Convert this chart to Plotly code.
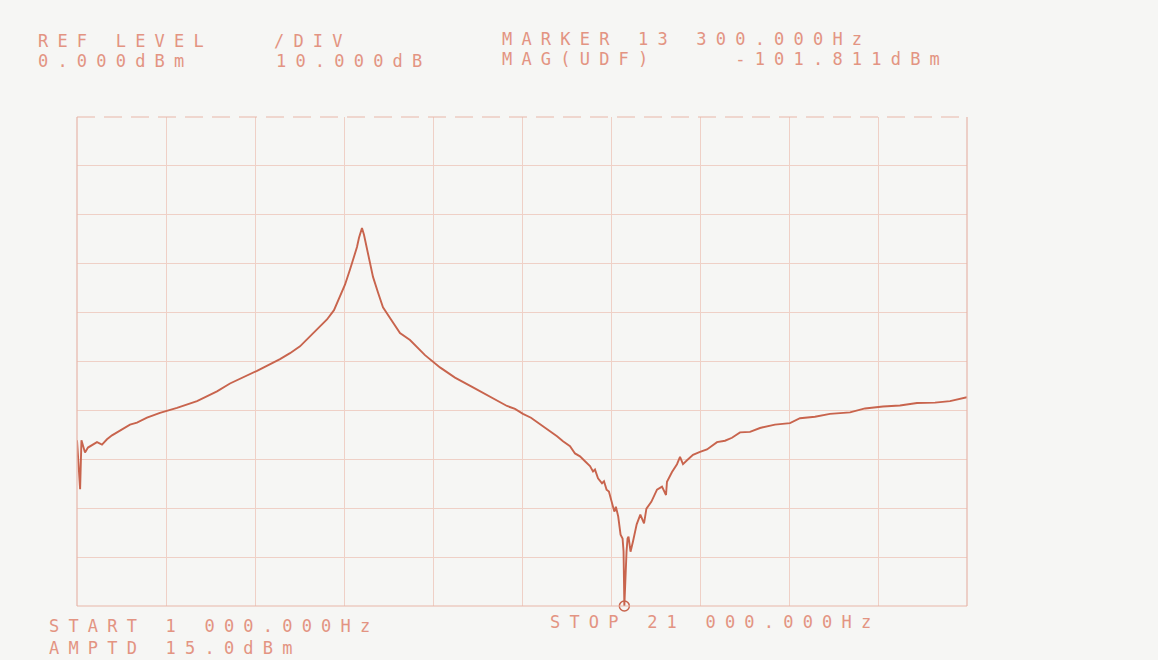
import plotly.graph_objects as go

# Swept response, 1 kHz .. 21 kHz, REF LEVEL 0 dBm, 10 dB/div
freq_hz = [
    1000, 1070, 1100, 1180, 1247, 1360, 1449, 1562, 1674, 1787, 1899, 2034,
    2191, 2348, 2573, 2865, 3247, 3697, 4146, 4438, 5045, 5562, 5787, 6011,
    6169, 6348, 6461, 6618, 6775, 6910, 7022, 7135, 7225, 7292, 7337, 7382,
    7404, 7449, 7494, 7539, 7584, 7652, 7764, 7876, 8034, 8258, 8483, 8820,
    9157, 9494, 9899, 10281, 10663, 10843, 11022, 11202, 11404, 11584, 11787,
    11921, 12079, 12191, 12303, 12416, 12528, 12596, 12640, 12708, 12798,
    12843, 12900, 12953, 13005, 13075, 13110, 13162, 13215, 13260, 13282,
    13300, 13349, 13372, 13394, 13439, 13494, 13577, 13659, 13742, 13796,
    13906, 14034, 14146, 14236, 14258, 14371, 14483, 14551, 14618, 14708,
    14843, 15000, 15157, 15382, 15562, 15719, 15899, 16124, 16348, 16685,
    17022, 17247, 17584, 17921, 18371, 18708, 19112, 19494, 19876, 20281,
    20618, 21000,
]
mag_dbm = [
    -66.1, -76.1, -66.1, -68.6, -67.6, -66.9, -66.5, -67.0, -65.9, -65.1, -64.5, -63.9,
    -62.9, -62.5, -61.5, -60.5, -59.5, -58.1, -56.1, -54.5, -51.9, -49.5, -48.3, -46.9,
    -45.5, -44.0, -43.0, -41.4, -39.5, -36.8, -34.3, -31.2, -28.8, -26.6, -24.7, -23.3,
    -22.7, -24.1, -26.1, -27.8, -30.2, -32.7, -35.9, -38.9, -41.1, -44.2, -45.6, -48.7,
    -51.2, -53.3, -55.3, -57.2, -59.1, -59.7, -60.7, -61.5, -62.8, -63.9, -65.3,
    -66.3, -67.3, -68.8, -69.4, -70.4, -71.4, -72.5, -72.1, -73.9, -74.9,
    -74.5, -76.2, -76.6, -78.6, -80.7, -79.7, -81.7, -85.4, -86.2, -88.8,
    -101.811, -88.9, -86.2, -85.8, -88.9, -86.8, -83.3, -81.3, -83.1, -80.1,
    -78.7, -76.2, -75.6, -77.3, -74.6, -72.6, -71.0, -69.5, -71.0, -70.2,
    -69.1, -68.5, -68.0, -66.5, -66.2, -65.6, -64.5, -64.4, -63.6, -62.9,
    -62.6, -61.6, -61.3, -60.7, -60.4, -59.6, -59.2, -59.0, -58.5, -58.4,
    -58.1, -57.3,
]

marker_hz = 13300.0
marker_dbm = -101.811

x_range = [1000, 21000]
y_range = [-100, 0]
x_grid = [3000, 5000, 7000, 9000, 11000, 13000, 15000, 17000, 19000]
y_grid = [-90, -80, -70, -60, -50, -40, -30, -20, -10]

header_lines = [
    ("REF LEVEL", 36, 41), ("0.000dBm", 36, 61),
    ("/DIV", 272, 41), ("10.000dB", 274, 61),
    ("MARKER 13 300.000Hz", 500, 39), ("MAG(UDF)    -101.811dBm", 500, 59),
]
footer_lines = [
    ("START 1 000.000Hz", 47, 626), ("AMPTD 15.0dBm", 47, 648),
    ("STOP 21 000.000Hz", 548, 622),
]

W, H = 1158, 660
L, R, T, B = 77, 191, 117, 54
PW, PH = W - L - R, H - T - B

ink = "#c8644d"
grid_ink = "#efd0c6"
frame_ink = "#e7b6a8"
text_ink = "#e39482"
paper = "#f6f6f4"

# the display floor is the bottom graticule line; readings below it sit on it
floor_db = y_range[0]
shown_db = [max(v, floor_db) for v in mag_dbm]

fig = go.Figure()
fig.add_trace(go.Scatter(
    x=freq_hz, y=shown_db, mode="lines",
    line=dict(color=ink, width=1.9),
    hoverinfo="skip", showlegend=False,
))
fig.add_trace(go.Scatter(
    x=[marker_hz], y=[max(marker_dbm, floor_db)], mode="markers",
    marker=dict(symbol="circle-open", size=10, color=ink, line=dict(width=1.5)),
    cliponaxis=False, hoverinfo="skip", showlegend=False,
))

# graticule frame: solid left/right/bottom, dashed top edge
frame = dict(color=frame_ink, width=1.2)
fig.add_shape(type="line", xref="paper", yref="paper", x0=0, x1=0, y0=0, y1=1, line=frame)
fig.add_shape(type="line", xref="paper", yref="paper", x0=1, x1=1, y0=0, y1=1, line=frame)
fig.add_shape(type="line", xref="paper", yref="paper", x0=0, x1=1, y0=0, y1=0, line=frame)
fig.add_shape(type="line", xref="paper", yref="paper", x0=0, x1=1, y0=1, y1=1,
              line=dict(color=frame_ink, width=1.2, dash="18px,9px"))


def px_to_paper(px, py):
    return (px - L) / PW, (H - B - py) / PH


for txt, px, py in header_lines + footer_lines:
    xp, yp = px_to_paper(px, py)
    fig.add_annotation(
        text=txt, x=xp, y=yp, xref="paper", yref="paper",
        xanchor="left", yanchor="middle", showarrow=False,
        font=dict(family="DejaVu Sans Mono", size=17, color=text_ink),
    )

fig.update_xaxes(
    range=x_range, tickvals=x_grid, showticklabels=False, ticks="",
    showgrid=True, gridcolor=grid_ink, gridwidth=1, zeroline=False, showline=False,
)
fig.update_yaxes(
    range=y_range, tickvals=y_grid, showticklabels=False, ticks="",
    showgrid=True, gridcolor=grid_ink, gridwidth=1, zeroline=False, showline=False,
)
fig.update_layout(
    width=W, height=H,
    margin=dict(l=L, r=R, t=T, b=B, pad=0),
    paper_bgcolor=paper, plot_bgcolor=paper,
    showlegend=False,
)

# plotter lettering is widely spaced; widen each label from its left edge
spacing_js = """
var gd = document.getElementById('{plot_id}');
gd.querySelectorAll('.annotation-text').forEach(function(t){
  var b0 = t.getBBox();
  t.style.letterSpacing = '9.2px';
  var b1 = t.getBBox();
  var x = parseFloat(t.getAttribute('x') || 0);
  t.setAttribute('x', x + (b0.x - b1.x));
});
"""

fig.write_html("out.html", post_script=spacing_js)
